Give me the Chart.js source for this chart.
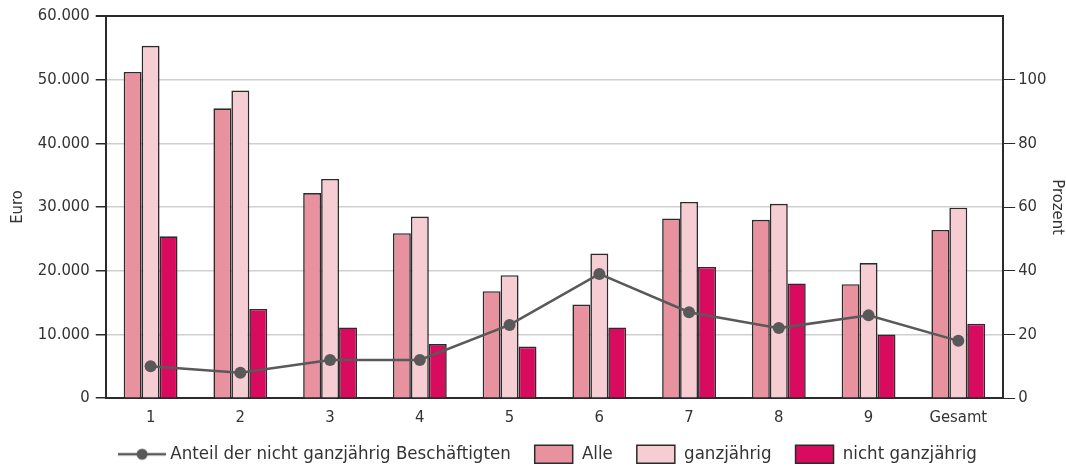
<!DOCTYPE html>
<html><head><meta charset="utf-8">
<script src="https://cdn.jsdelivr.net/npm/chart.js@4.4.1/dist/chart.umd.min.js"></script>
<style>html,body{margin:0;padding:0;background:#fff}#wrap{width:1066px;height:466px}</style>
</head><body><div id="wrap"><canvas id="c"></canvas></div>
<script>
const categories = ['1','2','3','4','5','6','7','8','9','Gesamt'];
const alle = [51200,45500,32200,25900,16800,14700,28200,28000,17900,26400];
const ganzjaehrig = [55300,48300,34400,28500,19300,22700,30800,30500,21200,29900];
const nichtGanzjaehrig = [25400,14000,11100,8500,8100,11100,20600,18000,10000,11700];
const anteilProzent = [10,8,12,12,23,39,27,22,26,18];
const euroTicks = [0,10000,20000,30000,40000,50000,60000];
const prozentTicks = [0,20,40,60,80,100];

const FONT = "'DejaVu Sans Condensed','Liberation Sans Narrow','Open Sans',sans-serif";
const TXT = '#333333';
const TICKSIZE = 16.5;
function fmt(v){return String(v).replace(/\B(?=(\d{3})+(?!\d))/g,'.');}

const lineIcon = document.createElement('canvas');
lineIcon.width = 48; lineIcon.height = 14;
(function(){const g=lineIcon.getContext('2d');g.strokeStyle='#595959';g.lineWidth=2.5;g.beginPath();g.moveTo(0,7);g.lineTo(48,7);g.stroke();g.fillStyle='#595959';g.beginPath();g.arc(24,7,5.5,0,Math.PI*2);g.fill();})();

const legendFix = {
  id:'legendFix',
  beforeLayout(chart){
    const lg = chart.legend;
    if(lg && !lg._wrapped){
      const orig = lg.fit;
      lg.fit = function(){ orig.call(this); this.height = 36; };
      lg._wrapped = true;
    }
  },
  afterLayout(chart){
    const lg = chart.legend;
    if(lg){ lg.top -= 9; lg.left += 15; lg.right += 15; }
  }
};

new Chart(document.getElementById('c'), {
  data: {
    labels: categories,
    datasets: [
      {type:'line', label:'Anteil der nicht ganzjährig Beschäftigten', data:anteilProzent, yAxisID:'y1',
       borderColor:'#595959', backgroundColor:'#595959', borderWidth:2.5, pointRadius:6, pointHoverRadius:6,
       pointBackgroundColor:'#595959', pointBorderWidth:0, tension:0, order:0},
      {type:'bar', label:'Alle', data:alle, yAxisID:'y', backgroundColor:'#E8919F', borderColor:'#2b2b2b', borderWidth:1.6, order:1},
      {type:'bar', label:'ganzjährig', data:ganzjaehrig, yAxisID:'y', backgroundColor:'#F5CDD3', borderColor:'#2b2b2b', borderWidth:1.6, order:1},
      {type:'bar', label:'nicht ganzjährig', data:nichtGanzjaehrig, yAxisID:'y', backgroundColor:'#D90B5E', borderColor:'#2b2b2b', borderWidth:1.6, order:1}
    ]
  },
  plugins:[legendFix],
  options: {
    responsive:true, maintainAspectRatio:false, animation:false,
    layout:{padding:{top:12,left:4,right:0,bottom:0}},
    datasets:{bar:{categoryPercentage:0.6, barPercentage:1.0}},
    plugins:{
      tooltip:{enabled:false},
      legend:{position:'bottom',
        labels:{usePointStyle:true, pointStyleWidth:38, boxHeight:18, padding:24, color:TXT, font:{family:FONT,size:18.5},
          sort:(a,b)=>a.datasetIndex-b.datasetIndex,
          generateLabels:(chart)=>{
            const items = Chart.defaults.plugins.legend.labels.generateLabels(chart);
            items.forEach(it=>{
              const ds = chart.data.datasets[it.datasetIndex];
              if(ds.type==='line'){it.pointStyle=lineIcon;}
              else {it.pointStyle='rect'; it.lineWidth=1.5; it.strokeStyle='#2b2b2b';}
            });
            return items;
          }}}
    },
    scales:{
      x:{grid:{display:false}, border:{display:true,color:'#2b2b2b',width:2},
         ticks:{color:TXT,font:{family:FONT,size:TICKSIZE},padding:2}},
      y:{position:'left', min:0, max:60000,
         afterBuildTicks:(s)=>{s.ticks=euroTicks.map(v=>({value:v}));},
         grid:{color:(c)=>c.tick&&c.tick.value===60000?'#2b2b2b':'#cfcfcf', lineWidth:(c)=>c.tick&&c.tick.value===60000?2:1.5,
               tickColor:'#2b2b2b', tickLength:10, drawTicks:true},
         border:{display:true,color:'#2b2b2b',width:2},
         ticks:{color:TXT,font:{family:FONT,size:TICKSIZE},padding:6, callback:(v)=>fmt(v)},
         title:{display:true,text:'Euro',color:TXT,font:{family:FONT,size:TICKSIZE},padding:{bottom:4}}},
      y1:{position:'right', min:0, max:120,
         afterBuildTicks:(s)=>{s.ticks=prozentTicks.concat([120]).map(v=>({value:v}));},
         grid:{drawOnChartArea:false, tickColor:(c)=>c.tick&&c.tick.value===120?'rgba(0,0,0,0)':'#2b2b2b', tickLength:12, drawTicks:true},
         border:{display:true,color:'#2b2b2b',width:2},
         ticks:{color:TXT,font:{family:FONT,size:TICKSIZE},padding:3, callback:(v)=>v===120?'':String(v)},
         title:{display:true,text:'Prozent',color:TXT,font:{family:FONT,size:TICKSIZE,lineHeight:1},padding:{top:0,bottom:0}}}
    }
  }
});
</script></body></html>
